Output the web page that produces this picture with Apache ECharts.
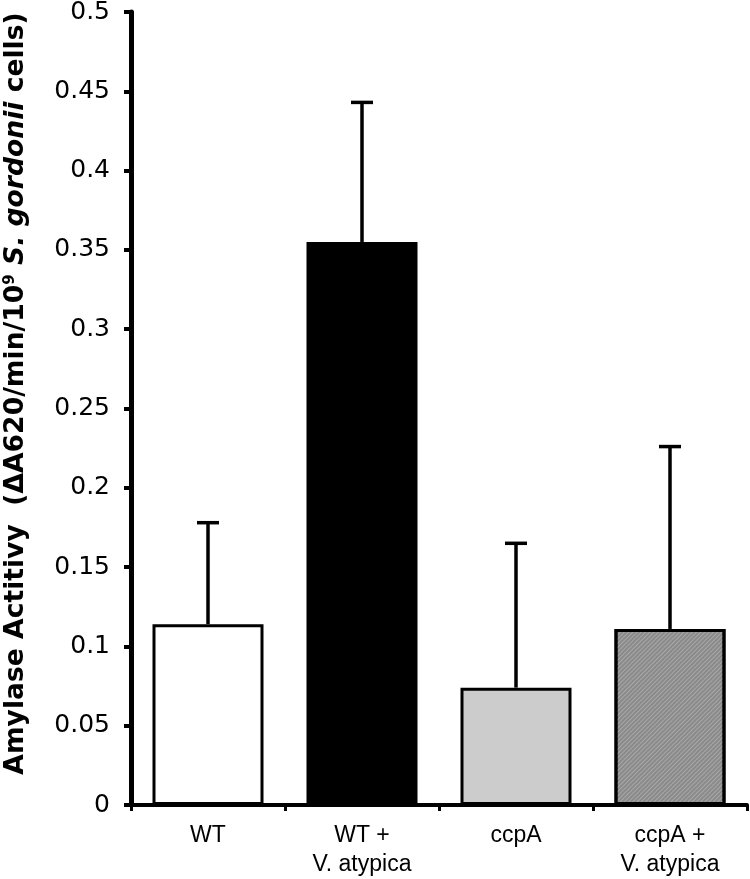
<!DOCTYPE html>
<html>
<head>
<meta charset="utf-8">
<script src="https://cdn.jsdelivr.net/npm/echarts@6/dist/echarts.min.js"></script>
<style>
  html, body { margin: 0; padding: 0; background: #fff; }
  #chart { width: 750px; height: 879px; }
</style>
</head>
<body>
<div id="chart"></div>
<script>
// categories on the x axis
const categories = ['WT', 'WT +\nV. atypica', 'ccpA', 'ccpA +\nV. atypica'];
// mean amylase activity
const means = [0.114, 0.355, 0.074, 0.111];
// top of the error bar (mean + SD)
const errTops = [0.178, 0.443, 0.165, 0.226];
// y tick settings
const yMin = 0;
const yMax = 0.5;
const yStep = 0.05;

const barColors = ['#ffffff', '#000000', '#cccccc', '#8a8a8a'];

const chart = echarts.init(document.getElementById('chart'));

const option = {
  animation: false,
  grid: { left: 131, right: 3, top: 12, bottom: 74, containLabel: false, outerBoundsMode: 'none' },
  xAxis: {
    type: 'category',
    data: categories,
    axisLine: { lineStyle: { color: '#000', width: 4 } },
    axisTick: { show: true, length: 6, lineStyle: { color: '#000', width: 3 } },
    axisLabel: {
      color: '#000',
      fontFamily: 'Liberation Sans',
      fontSize: 23,
      lineHeight: 29,
      margin: 16
    }
  },
  yAxis: {
    type: 'value',
    min: yMin,
    max: yMax,
    interval: yStep,
    splitLine: { show: false },
    axisLine: { show: true, lineStyle: { color: '#000', width: 5 } },
    axisTick: { show: true, length: 7, lineStyle: { color: '#000', width: 4 } },
    axisLabel: {
      color: '#000',
      fontFamily: 'DejaVu Sans',
      fontSize: 25,
      margin: 21
    },
    // 轴标题：斜体菌名 + 上标 9
    name: '{b|Amylase Actitivy  (ΔA620/min/10}{sup|9}{b| }{i|S. gordonii}{b| cells)}',
    nameLocation: 'middle',
    nameRotate: 90,
    nameGap: 101,
    nameTextStyle: {
      padding: [0, 0, 0, 30],
      rich: {
        b: { fontFamily: 'DejaVu Sans', fontWeight: 'bold', fontSize: 26.6, color: '#000' },
        i: { fontFamily: 'DejaVu Sans', fontWeight: 'bold', fontStyle: 'italic', fontSize: 26.6, color: '#000' },
        sup: { fontFamily: 'DejaVu Sans', fontWeight: 'bold', fontSize: 15, color: '#000', padding: [0, 0, 12, 0] }
      }
    }
  },
  series: [
    {
      type: 'bar',
      barWidth: 111,
      data: means.map((v, i) => ({
        value: v,
        itemStyle: {
          color: barColors[i],
          borderColor: '#000',
          borderWidth: 3,
          decal: i === 3 ? {
            symbol: 'rect',
            dashArrayX: [1, 0],
            dashArrayY: [1, 2],
            rotation: -Math.PI / 4,
            color: 'rgba(255,255,255,0.25)'
          } : null
        }
      })),
      z: 2
    },
    {
      type: 'custom',
      z: 3,
      data: means.map((v, i) => [i, v, errTops[i]]),
      renderItem: (params, api) => {
        const base = api.coord([api.value(0), api.value(1)]);
        const top = api.coord([api.value(0), api.value(2)]);
        const half = 11;
        const style = { stroke: '#000', lineWidth: 3.5 };
        return {
          type: 'group',
          children: [
            { type: 'line', shape: { x1: base[0], y1: base[1], x2: top[0], y2: top[1] }, style },
            { type: 'line', shape: { x1: top[0] - half, y1: top[1], x2: top[0] + half, y2: top[1] }, style }
          ]
        };
      }
    }
  ]
};

chart.setOption(option);
</script>
</body>
</html>
